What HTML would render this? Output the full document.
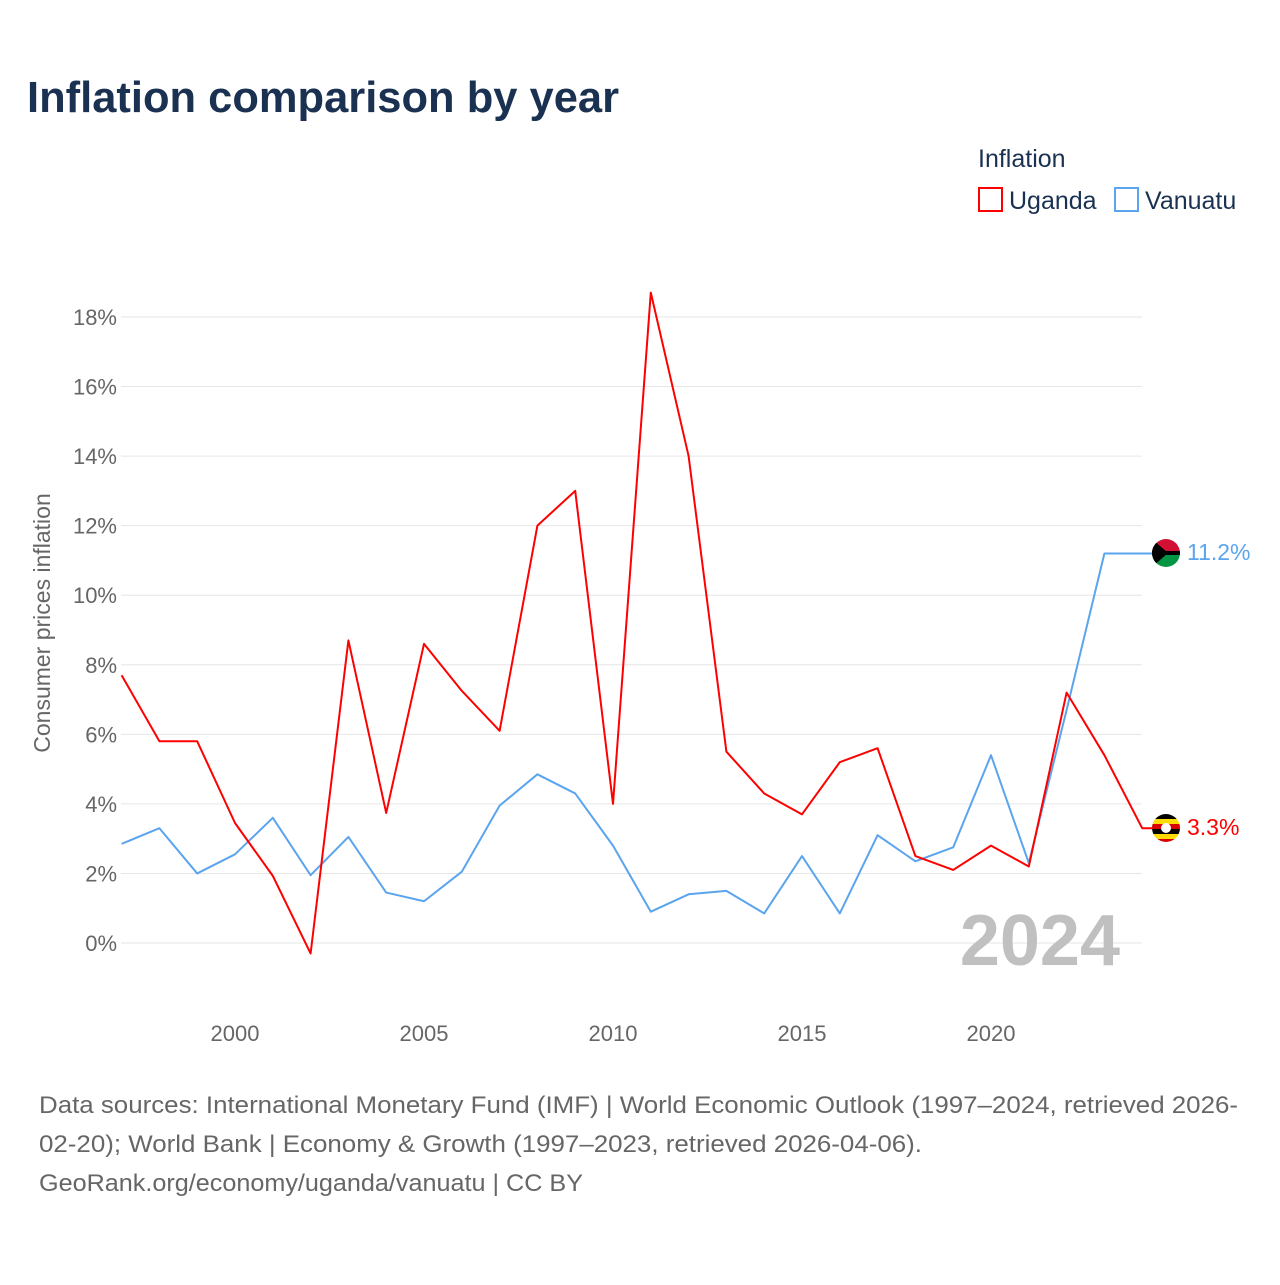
<!DOCTYPE html>
<html><head><meta charset="utf-8"><style>
body{margin:0;background:#fff;font-family:"Liberation Sans",sans-serif;}
</style></head><body>
<svg id="chart" width="1280" height="1280" xmlns="http://www.w3.org/2000/svg">
<text x="27" y="112" font-size="44" font-weight="bold" fill="#1a3152" textLength="592" lengthAdjust="spacingAndGlyphs">Inflation comparison by year</text>
<text x="978" y="167" font-size="25" fill="#1a3152">Inflation</text>
<g><rect x="979" y="188" width="23" height="23" fill="none" stroke="#f00" stroke-width="2"/><text x="1009" y="209" font-size="25" fill="#1a3152">Uganda</text></g>
<g><rect x="1115" y="188" width="23" height="23" fill="none" stroke="#5ba4ee" stroke-width="2"/><text x="1145" y="209" font-size="25" fill="#1a3152">Vanuatu</text></g>
<text transform="translate(50,623) rotate(-90)" text-anchor="middle" font-size="23" fill="#666">Consumer prices inflation</text>
<g id="grid"></g><g id="yt"></g><g id="xt"></g>
<text x="1120" y="965" text-anchor="end" font-size="72" font-weight="bold" fill="#c0c0c0">2024</text>
<g id="lines"></g>
<g><clipPath id="cv"><circle cx="1166" cy="553" r="14"/></clipPath><g clip-path="url(#cv)"><rect x="1152" y="539" width="28" height="14" fill="#d21034"/><rect x="1152" y="553" width="28" height="14" fill="#009543"/><rect x="1152" y="551" width="28" height="4" fill="#000"/><polygon points="1152,539 1168,553 1152,567" fill="#000"/></g></g>
<g><clipPath id="cu"><circle cx="1166" cy="828" r="14"/></clipPath><g clip-path="url(#cu)"><rect x="1152" y="814" width="28" height="5" fill="#000"/><rect x="1152" y="819" width="28" height="5" fill="#fcdc04"/><rect x="1152" y="824" width="28" height="5" fill="#d90000"/><rect x="1152" y="829" width="28" height="5" fill="#000"/><rect x="1152" y="834" width="28" height="5" fill="#fcdc04"/><rect x="1152" y="839" width="28" height="5" fill="#d90000"/><circle cx="1166" cy="828" r="5" fill="#fff"/></g></g>
<text x="1187" y="560" font-size="23" fill="#5ba4ee">11.2%</text>
<text x="1187" y="835" font-size="23" fill="#f00">3.3%</text>
<text font-size="24" fill="#666"><tspan x="39" y="1113" textLength="1199" lengthAdjust="spacingAndGlyphs">Data sources: International Monetary Fund (IMF) | World Economic Outlook (1997–2024, retrieved 2026-</tspan><tspan x="39" y="1152" textLength="883" lengthAdjust="spacingAndGlyphs">02-20); World Bank | Economy &amp; Growth (1997–2023, retrieved 2026-04-06).</tspan><tspan x="39" y="1191" textLength="544" lengthAdjust="spacingAndGlyphs">GeoRank.org/economy/uganda/vanuatu | CC BY</tspan></text>
</svg>
<script>
const years=[1997,1998,1999,2000,2001,2002,2003,2004,2005,2006,2007,2008,2009,2010,2011,2012,2013,2014,2015,2016,2017,2018,2019,2020,2021,2022,2023,2024];
const uganda=[7.7,5.8,5.8,3.45,1.93,-0.3,8.7,3.74,8.6,7.25,6.1,12.0,13.0,4.0,18.7,14.0,5.5,4.3,3.7,5.2,5.6,2.5,2.1,2.8,2.2,7.2,5.4,3.3];
const vanuatu=[2.85,3.3,2.0,2.55,3.6,1.95,3.05,1.45,1.2,2.05,3.95,4.85,4.3,2.8,0.9,1.4,1.5,0.85,2.5,0.85,3.1,2.35,2.75,5.4,2.3,6.7,11.2,11.2];
const yTicks=[0,2,4,6,8,10,12,14,16,18];
const xTicks=[2000,2005,2010,2015,2020];
const X=y=>121.6+(y-1997)*37.8, Y=v=>943-v*34.78;
const NS="http://www.w3.org/2000/svg";
function mk(t,a,p){const e=document.createElementNS(NS,t);for(const k in a)e.setAttribute(k,a[k]);document.getElementById(p).appendChild(e);return e;}
yTicks.forEach(v=>{
 const l=mk('line',{x1:121,x2:1142,y1:Y(v),y2:Y(v),stroke:'#e6e6e6','stroke-width':1},'grid');
 
 
 const t=mk('text',{x:117,y:Y(v)+8,'text-anchor':'end','font-size':22,fill:'#666','font-family':'Liberation Sans'},'yt');
 t.textContent=v+'%';
 
 
});
xTicks.forEach(v=>{
 const t=mk('text',{x:X(v),y:1041,'text-anchor':'middle','font-size':22,fill:'#666','font-family':'Liberation Sans'},'xt');
 t.textContent=v;
 
 
});
function line(d,c,n){
 let p=d.map((v,i)=>(i?'L':'M')+X(years[i])+' '+Y(v)).join(' ');
 p+=' L1152 '+Y(d[d.length-1]);
 const e=mk('path',{d:p,fill:'none',stroke:c,'stroke-width':2,'stroke-linejoin':'round'},'lines');
 
 
}
line(vanuatu,'#5ba4ee','vanuatu-line');
line(uganda,'#ff0000','uganda-line');
</script>
</body></html>
